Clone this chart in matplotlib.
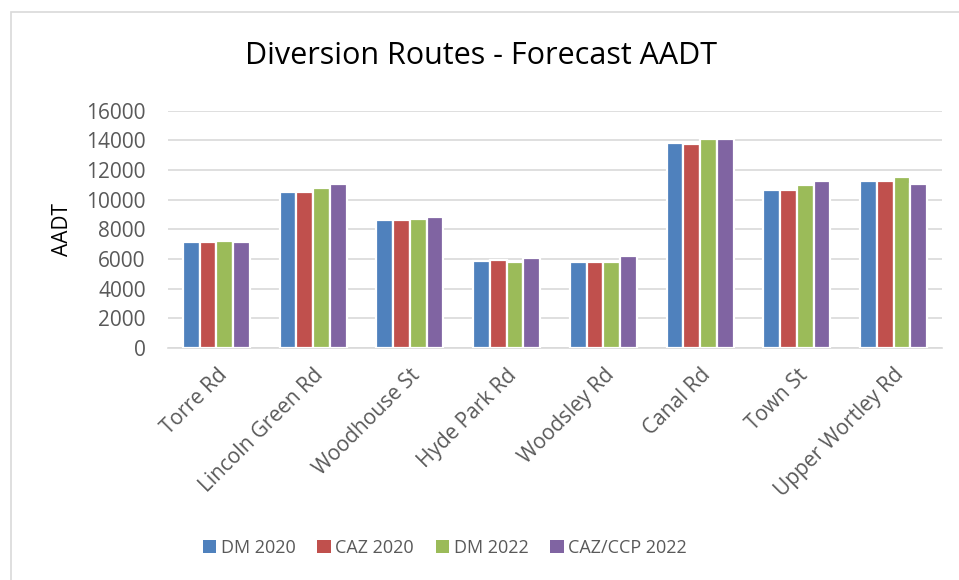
import numpy as np
import matplotlib
matplotlib.use("Agg")
import matplotlib.pyplot as plt
from matplotlib.patches import Rectangle, Patch

# Forecast AADT per diversion route
routes = ['Torre Rd', 'Lincoln Green Rd', 'Woodhouse St', 'Hyde Park Rd',
          'Woodsley Rd', 'Canal Rd', 'Town St', 'Upper Wortley Rd']
dm_2020 = [7160, 10510, 8620, 5850, 5810, 13800, 10650, 11230]
caz_2020 = [7180, 10510, 8600, 5920, 5810, 13750, 10650, 11230]
dm_2022 = [7230, 10780, 8670, 5830, 5810, 14090, 10960, 11540]
cazccp_2022 = [7180, 11050, 8800, 6040, 6210, 14090, 11230, 11070]

series = ['DM 2020', 'CAZ 2020', 'DM 2022', 'CAZ/CCP 2022']
colores = ['#4F81BD', '#C0504D', '#9BBB59', '#8064A2']

plt.rcParams['font.family'] = ['Open Sans', 'DejaVu Sans']
gris = '#595959'

fig = plt.figure(figsize=(9.59, 5.8), dpi=100)
# chart border (only top/left visible in the crop)
fig.patches.append(Rectangle((11 / 959, -0.1), 1.2, 1 - 12 / 580 + 0.1,
                             transform=fig.transFigure, fill=False,
                             edgecolor='#D9D9D9', linewidth=1.2))

ax = fig.add_axes([168 / 959, 1 - 348 / 580, 774 / 959, (348 - 110.7) / 580])

x = np.arange(len(routes))
w = 0.1725
datos = [dm_2020, caz_2020, dm_2022, cazccp_2022]
for i, (vals, c) in enumerate(zip(datos, colores)):
    ax.bar(x + (i - 1.5) * w, vals, width=w, color=c, edgecolor='white',
           linewidth=1.6, zorder=3)

ax.set_xlim(-0.5, len(routes) - 0.5)
ax.set_ylim(0, 16000)
ax.set_yticks(np.arange(0, 16001, 2000))
ax.yaxis.grid(True, color='#D9D9D9', linewidth=1.2, zorder=0)
for s in ['top', 'right', 'left']:
    ax.spines[s].set_visible(False)
ax.spines['bottom'].set_color('#D9D9D9')
ax.spines['bottom'].set_linewidth(1.2)
ax.tick_params(axis='y', length=0, pad=16, labelsize=15, labelcolor=gris)
ax.tick_params(axis='x', length=0, pad=12, labelsize=15, labelcolor=gris)
ax.set_xticks(x)
ax.set_xticklabels(routes, rotation=45, ha='right', rotation_mode='anchor')

fig.text(62 / 959, 1 - 230 / 580, 'AADT', rotation=90, ha='center',
         va='center', fontsize=15, color='black')
fig.text(481 / 959, 1 - 56 / 580, 'Diversion Routes - Forecast AADT',
         ha='center', va='center', fontsize=22, color='black')

handles = [Patch(facecolor=c, label=s) for s, c in zip(series, colores)]
fig.legend(handles=handles, loc='center', bbox_to_anchor=(445 / 959, 1 - 548 / 580),
           ncol=4, frameon=False, fontsize=13, labelcolor=gris,
           handlelength=0.75, handleheight=0.75, handletextpad=0.25,
           columnspacing=1.2)

fig.savefig('out.png', dpi=100)
